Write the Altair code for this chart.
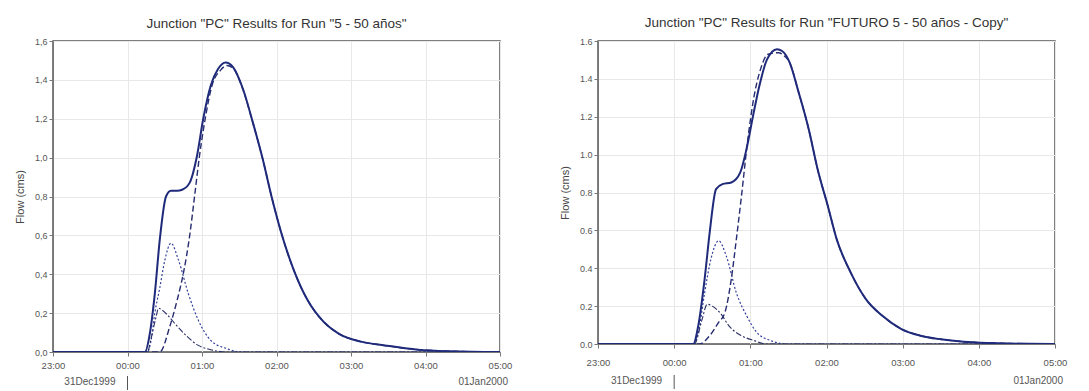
import altair as alt
import pandas as pd

# ---------------- data: minutes after 23:00 (31Dec1999), flow in cms ----------------
# Left panel: Run "5 - 50 años"
L_solid_min = [0, 70, 74, 78, 82, 86, 91, 95, 100, 104, 110, 116, 121, 127, 133, 139, 145, 153,
               161, 169, 176, 184, 194, 205, 218, 230, 249, 267, 294, 320, 360]
L_solid_flow = [0, 0, 0.0, 0.095, 0.30, 0.578, 0.80, 0.83, 0.83, 0.835, 0.87, 1.01, 1.20, 1.37,
                1.457, 1.49, 1.466, 1.353, 1.18, 0.99, 0.80, 0.61, 0.42, 0.267, 0.155, 0.095,
                0.052, 0.034, 0.012, 0.004, 0.0]
L_dash_min = [0, 86, 94, 100, 105, 110, 114, 118, 123, 128, 135, 140, 145, 153, 161, 169, 176,
              184, 194, 205, 218, 230, 249, 267, 294, 320, 360]
L_dash_flow = [0, 0, 0.13, 0.267, 0.405, 0.595, 0.80, 1.01, 1.215, 1.37, 1.45, 1.474, 1.46,
               1.35, 1.178, 0.99, 0.80, 0.61, 0.42, 0.267, 0.155, 0.095, 0.052, 0.034, 0.012,
               0.004, 0.0]
L_dot_min = [0, 76, 79, 82, 86, 90, 95, 101, 109, 117, 127, 140, 153, 360]
L_dot_flow = [0, 0, 0.06, 0.20, 0.33, 0.47, 0.56, 0.474, 0.30, 0.164, 0.06, 0.017, 0.0, 0.0]
L_dd_min = [0, 76, 79, 83, 85, 88, 93, 98, 107, 117, 127, 140, 360]
L_dd_flow = [0, 0, 0.07, 0.18, 0.225, 0.215, 0.185, 0.147, 0.086, 0.034, 0.012, 0.0, 0.0]

# Right panel: Run "FUTURO 5 - 50 años - Copy"
R_solid_min = [0, 72, 75, 79, 84, 88, 93, 98, 105, 112, 117, 122, 127, 133, 141, 145, 151, 158,
               166, 173, 181, 188, 199, 211, 224, 239, 254, 270, 288, 310, 340, 360]
R_solid_flow = [0, 0, 0.0, 0.097, 0.343, 0.59, 0.818, 0.844, 0.853, 0.905, 1.03, 1.20, 1.36,
                1.50, 1.556, 1.547, 1.486, 1.33, 1.134, 0.923, 0.73, 0.554, 0.378, 0.237, 0.149,
                0.079, 0.044, 0.025, 0.012, 0.005, 0.001, 0.0]
R_dash_min = [0, 80, 88, 95, 100, 105, 109, 113, 118, 123, 128, 134, 142, 147, 151, 158, 166,
              173, 181, 188, 199, 211, 224, 239, 254, 270, 288, 310, 340, 360]
R_dash_flow = [0, 0, 0.044, 0.114, 0.167, 0.343, 0.554, 0.78, 1.08, 1.31, 1.45, 1.53, 1.538,
               1.52, 1.486, 1.33, 1.134, 0.923, 0.73, 0.554, 0.378, 0.237, 0.149, 0.079, 0.044,
               0.025, 0.012, 0.005, 0.001, 0.0]
R_dot_min = [0, 75, 79, 84, 89, 95, 101, 109, 117, 125, 136, 148, 360]
R_dot_flow = [0, 0, 0.06, 0.27, 0.45, 0.545, 0.466, 0.27, 0.15, 0.062, 0.018, 0.0, 0.0]
R_dd_min = [0, 76, 82, 86, 90, 97, 103, 113, 123, 133, 360]
R_dd_flow = [0, 0, 0.13, 0.21, 0.20, 0.158, 0.097, 0.044, 0.018, 0.0, 0.0]

Y_TICKS = [0.0, 0.2, 0.4, 0.6, 0.8, 1.0, 1.2, 1.4, 1.6]
HOURS = ["23:00", "00:00", "01:00", "02:00", "03:00", "04:00", "05:00"]
DATE_LABELS = ["31Dec1999", "01Jan2000"]
TITLES = ['Junction "PC" Results for Run "5 - 50 años"',
          'Junction "PC" Results for Run "FUTURO 5 - 50 años - Copy"']

BASE = pd.Timestamp("1999-12-31 23:00:00")
FONT = "Liberation Sans"


def iso(ts):
    return ts.strftime("%Y-%m-%dT%H:%M:%S")


def to_df(mins, flows):
    return pd.DataFrame({"t": [iso(BASE + pd.Timedelta(minutes=m)) for m in mins],
                         "flow": flows})


def dt(ts):
    return alt.DateTime(year=ts.year, month=ts.month, date=ts.day, hours=ts.hour,
                        minutes=ts.minute)


TICK_TS = [BASE + pd.Timedelta(hours=i) for i in range(len(HOURS))]

STYLES = [
    dict(color="#34409a", strokeWidth=1.2, strokeDash=[2, 2]),          # dotted
    dict(color="#2a2f66", strokeWidth=1.1, strokeDash=[6, 2, 2, 2]),    # dash-dot
    dict(color="#262c70", strokeWidth=1.4, strokeDash=[6, 3]),          # dashed
    dict(color="#1f2a7a", strokeWidth=2.0),                             # solid outflow
]


def panel(title, series, width, height, comma, label_pad, title_offset, date_dy):
    x_enc = alt.X("t:T",
                  scale=alt.Scale(domain=[dt(TICK_TS[0]), dt(TICK_TS[-1])]),
                  axis=alt.Axis(values=[dt(t) for t in TICK_TS], format="%H:%M",
                                title=None, labelPadding=label_pad, labelFlush=False))
    if comma:
        lab = "replace(format(datum.value, '.1f'), '.', ',')"
    else:
        lab = "format(datum.value, '.1f')"
    y_enc = alt.Y("flow:Q",
                  scale=alt.Scale(domain=[0, 1.6], nice=False, zero=True),
                  axis=alt.Axis(values=Y_TICKS, title="Flow (cms)", labelExpr=lab,
                                titlePadding=9))
    layers = []
    for (mins, flows), style in zip(series, STYLES):
        layers.append(
            alt.Chart(to_df(mins, flows))
            .mark_line(interpolate="monotone", clip=True, **style)
            .encode(x=x_enc, y=y_enc)
        )
    left_date = pd.DataFrame({"t": [iso(TICK_TS[1])], "label": [DATE_LABELS[0]]})
    right_date = pd.DataFrame({"t": [iso(TICK_TS[-1])], "label": [DATE_LABELS[1]]})
    txt_l = alt.Chart(left_date).mark_text(align="right", baseline="middle", dx=-12,
                                           fontSize=10, font=FONT, color="#555").encode(
        x=x_enc, y=alt.value(height + date_dy), text="label:N")
    txt_r = alt.Chart(right_date).mark_text(align="right", baseline="middle", dx=8,
                                            fontSize=10, font=FONT, color="#555").encode(
        x=x_enc, y=alt.value(height + date_dy), text="label:N")
    sep = alt.Chart(left_date).mark_rule(color="#555", strokeWidth=1).encode(
        x=x_enc, y=alt.value(height + date_dy - 6), y2=alt.value(height + date_dy + 8))
    return alt.layer(*layers, txt_l, txt_r, sep).properties(
        width=width, height=height,
        title=alt.TitleParams(title, fontSize=13.5, font=FONT, fontWeight="normal",
                              color="#333", anchor="middle", offset=title_offset))


left = panel(TITLES[0],
             [(L_dot_min, L_dot_flow), (L_dd_min, L_dd_flow),
              (L_dash_min, L_dash_flow), (L_solid_min, L_solid_flow)],
             447, 311, True, 4, 7, 30)
right = panel(TITLES[1],
              [(R_dot_min, R_dot_flow), (R_dd_min, R_dd_flow),
               (R_dash_min, R_dash_flow), (R_solid_min, R_solid_flow)],
              457, 303, False, 9, 8, 37)

chart = alt.hconcat(left, right, spacing=45).properties(
    padding={"left": 5, "top": 6, "right": 5, "bottom": 0}
).configure_view(
    stroke="#555", strokeWidth=1.5
).configure_axis(
    labelFont=FONT, labelFontSize=9.5, labelColor="#555",
    titleFont=FONT, titleFontSize=11, titleFontWeight="normal", titleColor="#444",
    domainColor="#777", tickColor="#777", tickSize=4,
    gridColor="#e8e8e8", gridWidth=1
).configure_axisY(labelFontSize=9)

chart.save("out.html", embed_options={"renderer": "svg", "actions": False})
